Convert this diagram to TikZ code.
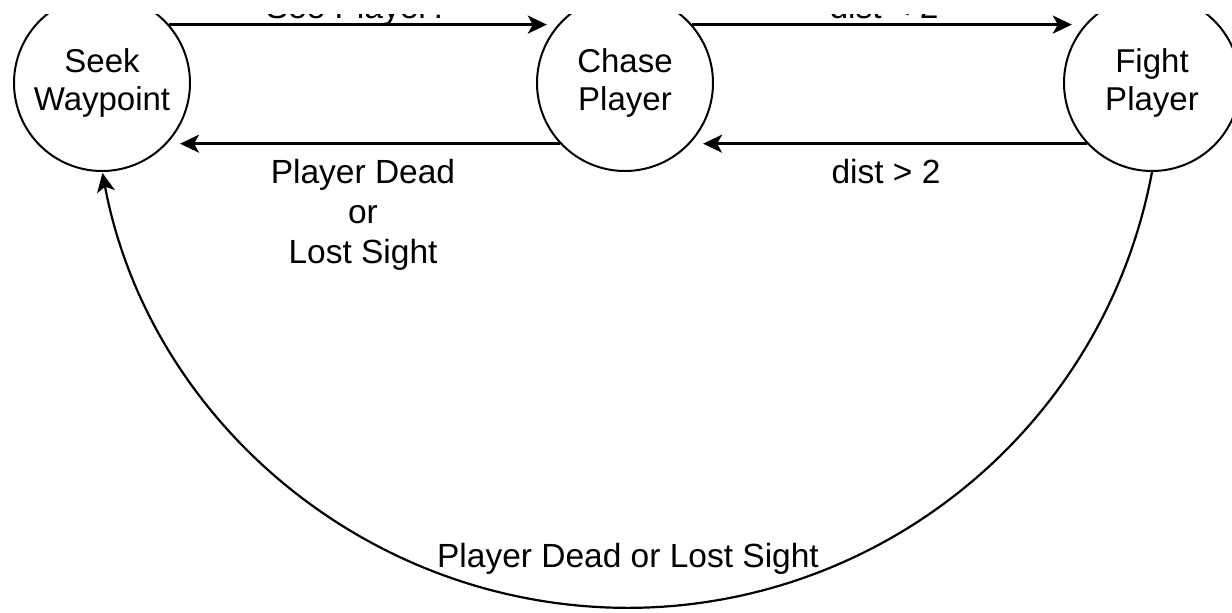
\documentclass[tikz,border=0pt]{standalone}
\usepackage{fontspec}
\setmainfont{Liberation Sans}
\usetikzlibrary{arrows.meta}
\begin{document}
\begin{tikzpicture}[x=1pt,y=1pt,
  state/.style={circle,draw,line width=2pt,minimum size=176pt,inner sep=0pt,align=center,
    font=\fontsize{33}{38.5}\selectfont},
  lbl/.style={font=\fontsize{33.5}{40}\selectfont,align=center,inner sep=0pt},
  tip/.style={-{Stealth[length=19pt,width=18pt,inset=5pt]}},
  conn/.style={line width=2.6pt,tip},
]
\useasboundingbox (0,0) rectangle (1232,-613);
\fill[white] (0,0) rectangle (1232,-613);
\clip (0,-14) rectangle (1232,-613);
\node[state] (seek) at (102,-83) {Seek\\Waypoint};
\node[state] (chase) at (625,-83) {Chase\\Player};
\node[state] (fight) at (1152,-83) {Fight\\Player};
\draw[conn,shorten >=11pt] (seek.41) -- (chase.139);
\draw[conn,shorten >=13pt] (chase.41) -- (fight.139);
\draw[conn,shorten >=13pt] (chase.-137) -- (seek.-43);
\draw[conn,shorten >=13pt] (fight.-137) -- (chase.-43);
\draw[line width=2.2pt,tip] (fight.south) arc[start angle=-10.6,end angle=-169.3,radius=534];
\node[lbl,anchor=base] (l1) at (357,-18) {See Player?};
\node[lbl,anchor=base] (l2) at (884,-18) {dist < 2};
\node[lbl,anchor=base] (l3) at (363,-263) {Player Dead\\or\\Lost Sight};
\node[lbl,anchor=base] (l4) at (886,-183) {dist > 2};
\node[lbl,anchor=base] (l5) at (628,-567) {Player Dead or Lost Sight};
\end{tikzpicture}
\end{document}
